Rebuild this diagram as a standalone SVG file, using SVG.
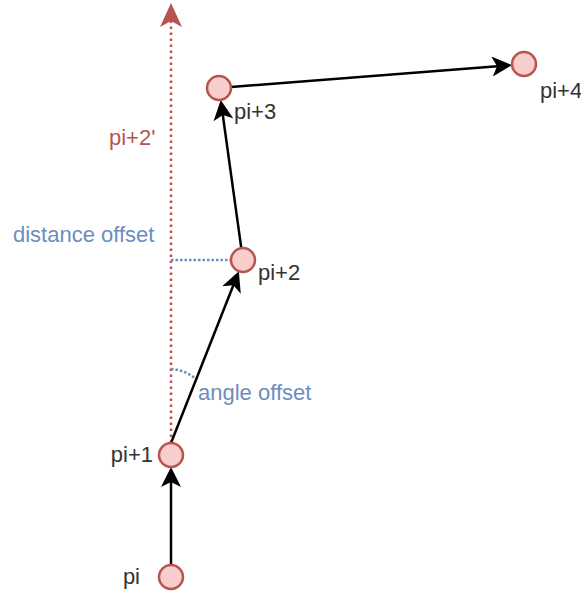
<svg xmlns="http://www.w3.org/2000/svg" width="581" height="597" viewBox="0 0 581 597">
<style>
.node{fill:#f8cecc;stroke:#b85450;stroke-width:2.5}
.lbl{font-family:"Liberation Sans",Arial,sans-serif;font-size:22px;fill:#333333}
.red{fill:#b85450}
.blue{fill:#6c8ebf}
.edge{stroke:#000;stroke-width:2.5;fill:none;marker-end:url(#arr)}
</style>
<defs>
<marker id="arr" markerUnits="userSpaceOnUse" viewBox="0 0 20 20" markerWidth="20" markerHeight="20" refX="15" refY="10" orient="auto">
<path d="M0,0 L20,10 L0,20 L5,10 Z" fill="#000"/>
</marker>
<marker id="arrRed" markerUnits="userSpaceOnUse" viewBox="0 0 24 22" markerWidth="24" markerHeight="22" refX="18" refY="11" orient="auto">
<path d="M0,0 L24,11 L0,22 L6,11 Z" fill="#b85450"/>
</marker>
</defs>
<g id="connectors">
<line x1="171" y1="443" x2="171" y2="9" stroke="#b85450" stroke-width="2.5" stroke-dasharray="2.5 3.5" marker-end="url(#arrRed)"/>
<line x1="171" y1="260" x2="230" y2="260" stroke="#6c8ebf" stroke-width="2.5" stroke-dasharray="2.5 2"/>
<path d="M171,369 Q186,370 197,380" fill="none" stroke="#6c8ebf" stroke-width="2.5" stroke-dasharray="2.5 2"/>
<line class="edge" x1="171" y1="565" x2="171" y2="472"/>
<line class="edge" x1="171" y1="443" x2="237" y2="276"/>
<line class="edge" x1="241.3" y1="248.1" x2="221.4" y2="105"/>
<line class="edge" x1="231" y1="87" x2="507" y2="65.4"/>
</g>
<g id="p_i"><circle class="node" cx="171" cy="577" r="12"/><text class="lbl" x="140" y="584" text-anchor="end">pi</text></g>
<g id="p_i1"><circle class="node" cx="171" cy="455" r="12"/><text class="lbl" x="153" y="462" text-anchor="end">pi+1</text></g>
<g id="p_i2"><circle class="node" cx="243" cy="260" r="12"/><text class="lbl" x="258" y="280">pi+2</text></g>
<g id="p_i3"><circle class="node" cx="219" cy="88" r="12"/><text class="lbl" x="234" y="119">pi+3</text></g>
<g id="p_i4"><circle class="node" cx="524" cy="64" r="12"/><text class="lbl" x="540" y="98">pi+4</text></g>
<g id="label_pi2prime"><text class="lbl red" x="109" y="145">pi+2'</text></g>
<g id="label_distance"><text class="lbl blue" x="13" y="242">distance offset</text></g>
<g id="label_angle"><text class="lbl blue" x="198" y="400">angle offset</text></g>
</svg>
